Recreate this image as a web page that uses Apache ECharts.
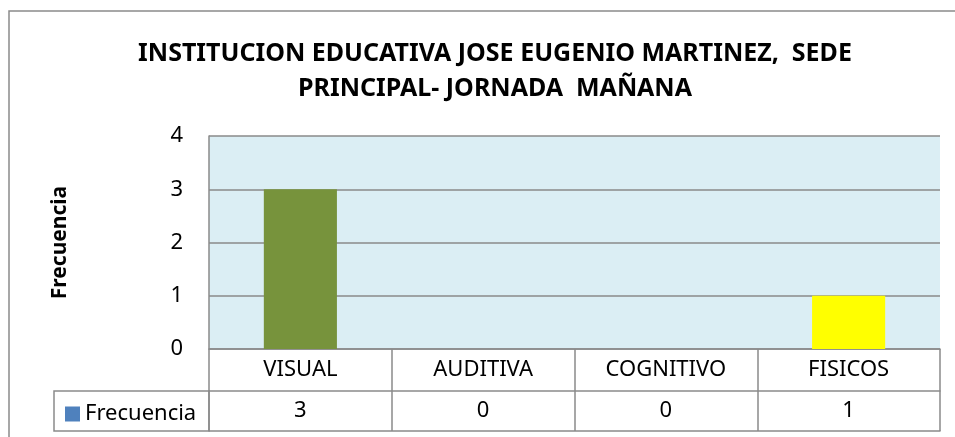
<!DOCTYPE html>
<html lang="es">
<head>
    <meta charset="UTF-8">
    <title>Frecuencia</title>
    <style>
        * { margin: 0; padding: 0; }
        html, body { width: 100%; height: 100%; background: #fff; }
        #main { width: 955px; height: 437px; }
    </style>
    <script src="https://cdn.jsdelivr.net/npm/echarts@6/dist/echarts.min.js"></script>
</head>
<body>
    <div id="main"></div>
<script>
    // datos del grafico
    var categorias = ['VISUAL', 'AUDITIVA', 'COGNITIVO', 'FISICOS'];
    var frecuencia = [3, 0, 0, 1];
    var colores = ['#77933C', '#4F81BD', '#4F81BD', '#FFFF00'];
    var titulo = 'INSTITUCION EDUCATIVA JOSE EUGENIO MARTINEZ,  SEDE\nPRINCIPAL- JORNADA  MAÑANA';

    var gris = '#8a8a8a';
    var fuente = '"Noto Sans", sans-serif';

    function initEchart() {
        var option = {
            animation: false,
            title: {
                text: titulo,
                left: 490,
                top: 31,
                textAlign: 'center',
                textStyle: {
                    fontFamily: fuente,
                    fontWeight: 'bold',
                    fontSize: 25,
                    lineHeight: 35,
                    color: '#000'
                }
            },
            legend: {
                data: ['Frecuencia'],
                left: 60,
                top: 398,
                icon: 'rect',
                itemWidth: 15,
                itemHeight: 15,
                itemGap: 4,
                selectedMode: false,
                textStyle: { fontFamily: fuente, fontSize: 22, color: '#000' }
            },
            grid: {
                left: 209,
                right: 15,
                top: 136,
                bottom: 88,
                show: true,
                backgroundColor: '#DBEEF4',
                borderWidth: 0
            },
            xAxis: [{
                type: 'category',
                data: categorias,
                position: 'bottom',
                axisLine: { lineStyle: { color: gris, width: 1.5 } },
                axisTick: { show: true, interval: 0, length: 82, lineStyle: { color: gris, width: 1.5 } },
                axisLabel: { interval: 0, margin: 10, fontFamily: fuente, fontSize: 22, color: '#000' }
            }, {
                type: 'category',
                data: frecuencia.map(String),
                position: 'bottom',
                offset: 42,
                axisLine: { lineStyle: { color: gris, width: 1.5 } },
                axisTick: { show: false },
                axisLabel: { interval: 0, margin: 9, fontFamily: fuente, fontSize: 22, color: '#000' }
            }, {
                type: 'category',
                data: categorias,
                position: 'bottom',
                offset: 82,
                axisLine: { lineStyle: { color: gris, width: 1.5 } },
                axisTick: { show: false },
                axisLabel: { show: false }
            }],
            yAxis: {
                type: 'value',
                min: 0,
                max: 4,
                interval: 1,
                name: 'Frecuencia',
                nameLocation: 'middle',
                nameGap: 138,
                nameTextStyle: { fontFamily: fuente, fontWeight: 'bold', fontSize: 21, color: '#000' },
                axisLine: { show: true, lineStyle: { color: gris, width: 1.5 } },
                axisTick: { show: false },
                axisLabel: { margin: 26, fontFamily: fuente, fontSize: 22, color: '#000' },
                splitLine: { lineStyle: { color: gris, width: 1.5 } }
            },
            series: [{
                name: 'Frecuencia',
                type: 'bar',
                barCategoryGap: '60%',
                itemStyle: { color: '#4F81BD' },
                data: frecuencia.map(function (v, i) {
                    return { value: v, itemStyle: { color: colores[i] } };
                })
            }],
            graphic: [{
                type: 'rect',
                shape: { x: 9, y: 11, width: 960, height: 440 },
                style: { fill: 'none', stroke: gris, lineWidth: 1.5 },
                silent: true
            }, {
                type: 'rect',
                shape: { x: 54, y: 391, width: 155, height: 40 },
                style: { fill: 'none', stroke: gris, lineWidth: 1.5 },
                silent: true
            }]
        };
        var myChart = echarts.init(document.getElementById('main'));
        myChart.setOption(option);
    }
    initEchart();
</script>
</body>
</html>
